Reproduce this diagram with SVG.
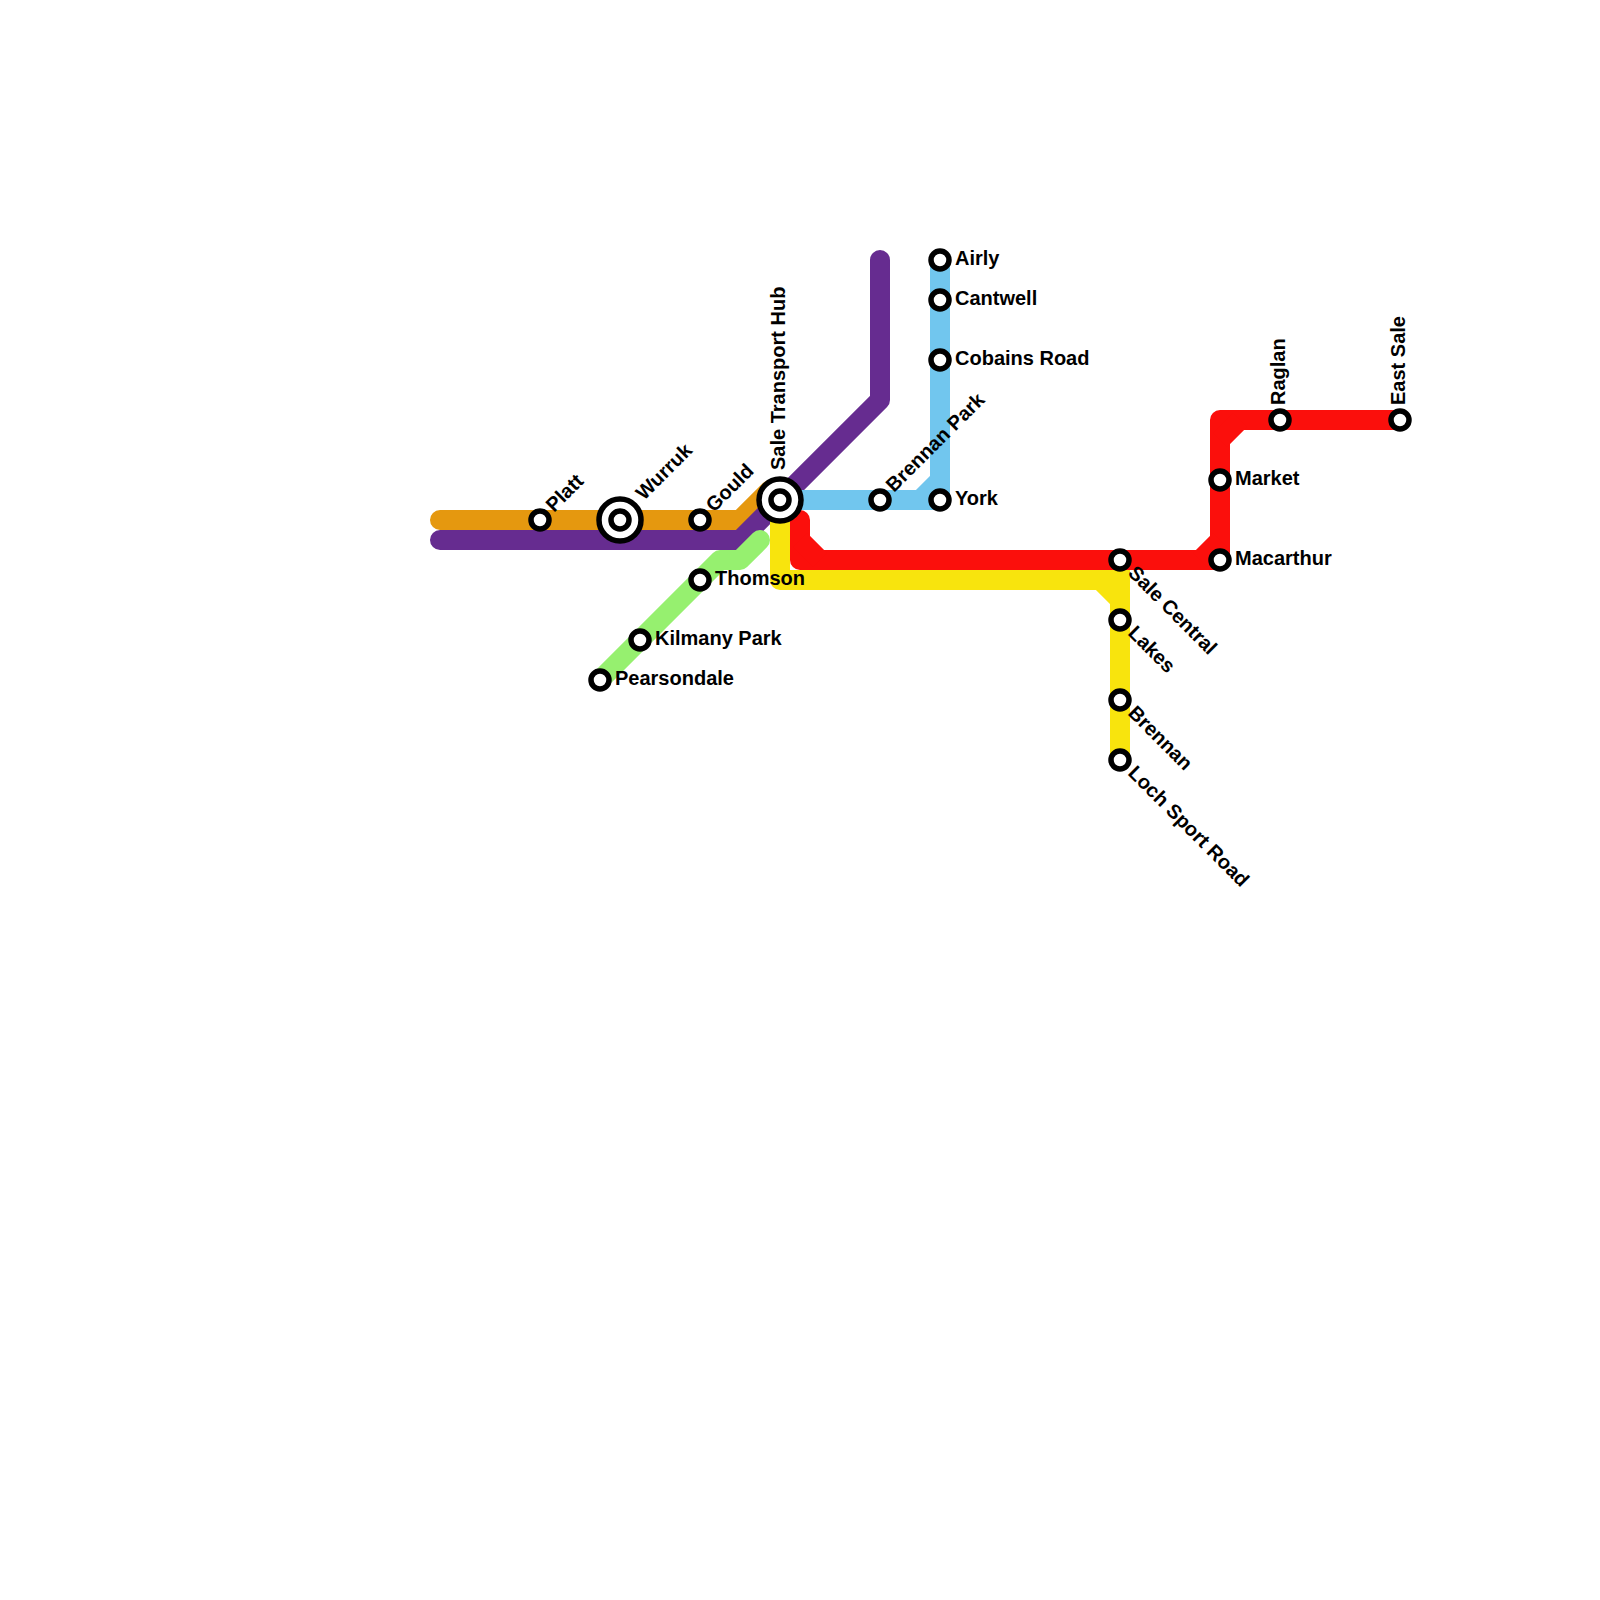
<svg xmlns="http://www.w3.org/2000/svg" width="1600" height="1600" viewBox="0 0 1600 1600">
<style>
.l{fill:none;stroke-width:20;stroke-linecap:round;stroke-linejoin:round}
.c{stroke-linecap:butt}
.s{fill:#fff;stroke:#000;stroke-width:5.5}
.t{font-family:"Liberation Sans",Arial,sans-serif;font-weight:700;font-size:20px;fill:#000}
</style>
<defs>
<g id="st"><circle class="s" r="9"/></g>
<g id="hub"><circle class="s" r="21"/><circle class="s" r="9"/></g>
</defs>
<g id="connectors">
<path class="l" stroke="#E5980F" d="M440 520H740L770 490"/>
<path class="l" stroke="#662C90" d="M440 540H740L880 400V260"/>
<path class="l" stroke="#96F06F" d="M600 680L720 560H740L760 540"/>
<path class="l" stroke="#71C6EE" d="M780 500H940V260"/>
<path class="l c" stroke="#71C6EE" d="M920 500L940 480"/>
<path class="l" stroke="#F8E40D" d="M780 500V580H1120M1120 560V760"/>
<path class="l c" stroke="#F8E40D" d="M1100 580L1120 600"/>
<path class="l" stroke="#FB0F0C" d="M800 520V560H1220V420H1400"/>
<path class="l c" stroke="#FB0F0C" d="M800 540L820 560M1200 560L1220 540M1220 440L1240 420"/>
</g>
<g id="platt"><use href="#st" x="540" y="520"/><text class="t" transform="translate(554 513) rotate(-45)">Platt</text></g>
<g id="wurruk"><use href="#hub" x="620" y="520"/><text class="t" transform="translate(644 501) rotate(-45)">Wurruk</text></g>
<g id="gould"><use href="#st" x="700" y="520"/><text class="t" transform="translate(714 513) rotate(-45)">Gould</text></g>
<g id="sale-transport-hub"><use href="#hub" x="780" y="500"/><text class="t" transform="translate(785 470) rotate(-90)">Sale Transport Hub</text></g>
<g id="thomson"><use href="#st" x="700" y="580"/><text class="t" x="715" y="585">Thomson</text></g>
<g id="kilmany-park"><use href="#st" x="640" y="640"/><text class="t" x="655" y="645">Kilmany Park</text></g>
<g id="pearsondale"><use href="#st" x="600" y="680"/><text class="t" x="615" y="685">Pearsondale</text></g>
<g id="brennan-park"><use href="#st" x="880" y="500"/><text class="t" transform="translate(894 493) rotate(-45)">Brennan Park</text></g>
<g id="york"><use href="#st" x="940" y="500"/><text class="t" x="955" y="505">York</text></g>
<g id="airly"><use href="#st" x="940" y="260"/><text class="t" x="955" y="265">Airly</text></g>
<g id="cantwell"><use href="#st" x="940" y="300"/><text class="t" x="955" y="305">Cantwell</text></g>
<g id="cobains-road"><use href="#st" x="940" y="360"/><text class="t" x="955" y="365">Cobains Road</text></g>
<g id="sale-central"><use href="#st" x="1120" y="560"/><text class="t" transform="translate(1127 574) rotate(45)">Sale Central</text></g>
<g id="lakes"><use href="#st" x="1120" y="620"/><text class="t" transform="translate(1127 634) rotate(45)">Lakes</text></g>
<g id="brennan"><use href="#st" x="1120" y="700"/><text class="t" transform="translate(1127 714) rotate(45)">Brennan</text></g>
<g id="loch-sport-road"><use href="#st" x="1120" y="760"/><text class="t" transform="translate(1127 774) rotate(45)">Loch Sport Road</text></g>
<g id="macarthur"><use href="#st" x="1220" y="560"/><text class="t" x="1235" y="565">Macarthur</text></g>
<g id="market"><use href="#st" x="1220" y="480"/><text class="t" x="1235" y="485">Market</text></g>
<g id="raglan"><use href="#st" x="1280" y="420"/><text class="t" transform="translate(1285 405) rotate(-90)">Raglan</text></g>
<g id="east-sale"><use href="#st" x="1400" y="420"/><text class="t" transform="translate(1405 405) rotate(-90)">East Sale</text></g>
</svg>
